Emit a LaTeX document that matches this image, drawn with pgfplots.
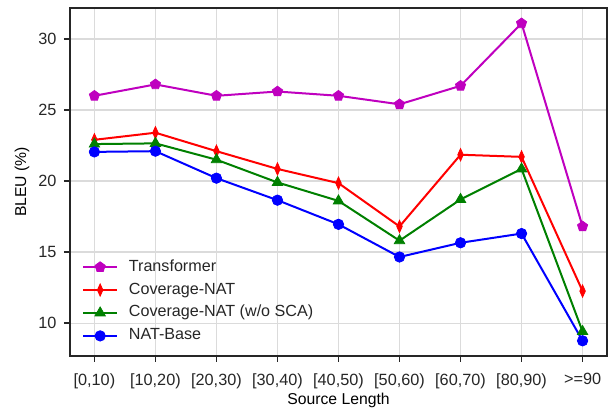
\documentclass[border=0pt]{standalone}
\usepackage{fontspec}
\setmainfont{Liberation Sans}
\usepackage{pgfplots}
\pgfplotsset{compat=1.18}
\usetikzlibrary{plotmarks}
\definecolor{tcol}{rgb}{0.75,0,0.75}
\definecolor{gcol}{rgb}{0,0.5,0}
\definecolor{txt}{gray}{0.15}
\begin{document}
\fontsize{11.8pt}{14pt}\selectfont
\begin{tikzpicture}
\useasboundingbox (-52.5pt,-39.75pt) rectangle (403.5pt,267pt);
\begin{axis}[
  scale only axis, width=402.75pt, height=261.2pt,
  at={(0pt,0pt)}, anchor=south west,
  xmin=-0.4, xmax=8.4, ymin=7.68, ymax=32.2,
  xtick={0,...,8},
  xticklabels={{[0,10)},{[10,20)},{[20,30)},{[30,40)},{[40,50)},{[50,60)},{[60,70)},{[80,90)},{>=90}},
  ytick={10,15,20,25,30},
  /pgf/number format/assume math mode=true,
  tick label style={font=\fontsize{12.2pt}{14pt}\selectfont, text=txt},
  xticklabel style={yshift=-4.5pt},
  yticklabel style={xshift=-1.5pt},
  label style={font=\fontsize{13pt}{15pt}\selectfont, text=txt},
  xlabel={Source Length}, ylabel={BLEU (\%)},
  every axis x label/.style={at={(axis description cs:0.5,0)}, anchor=center, yshift=-33pt},
  every axis y label/.style={at={(axis description cs:0,0.5)}, xshift=-36pt, rotate=90, anchor=center},
  axis line style={black!85, line width=1.3pt},
  tick align=outside, tick pos=left,
  major tick length=4.5pt,
  tick style={black!85, line width=1pt},
  grid=major, grid style={gray!28, line width=0.8pt},
  every axis plot/.append style={line width=1.5pt},
  legend cell align=left,
  legend style={draw=none, fill=none, inner sep=0pt, at={(0.022,0.024)}, anchor=south west,
    font=\fontsize{12.1pt}{14pt}\selectfont, text=txt,
    nodes={text height=8.5pt, text depth=2.5pt, inner ysep=3.1pt},
    /tikz/every odd column/.append style={column sep=6pt},
    row sep=0pt},
  legend image code/.code={\draw[mark repeat=2,mark phase=2] plot coordinates {(0cm,0cm) (0.45cm,0cm) (0.9cm,0cm)};},
]
\addplot[tcol, mark=pentagon*, mark size=4pt, mark options={solid, line width=0.6pt}] coordinates {
(0,26.0) (1,26.8) (2,26.0) (3,26.3) (4,26.0) (5,25.4) (6,26.7) (7,31.1) (8,16.8)};
\addplot[red, mark=diamond*, mark size=4.6pt, mark options={solid, xscale=0.6, line width=0.6pt}] coordinates {
(0,22.9) (1,23.4) (2,22.1) (3,20.85) (4,19.85) (5,16.8) (6,21.85) (7,21.7) (8,12.25)};
\addplot[gcol, mark=triangle*, mark size=4.5pt, mark options={solid, line width=0.6pt}] coordinates {
(0,22.6) (1,22.65) (2,21.5) (3,19.9) (4,18.6) (5,15.8) (6,18.7) (7,20.85) (8,9.4)};
\addplot[blue, mark=*, mark size=3.9pt, mark options={solid, line width=0.6pt}] coordinates {
(0,22.05) (1,22.1) (2,20.2) (3,18.65) (4,16.95) (5,14.65) (6,15.65) (7,16.3) (8,8.75)};
\legend{Transformer, Coverage-NAT, Coverage-NAT (w/o SCA), NAT-Base}
\end{axis}
\end{tikzpicture}
\end{document}
